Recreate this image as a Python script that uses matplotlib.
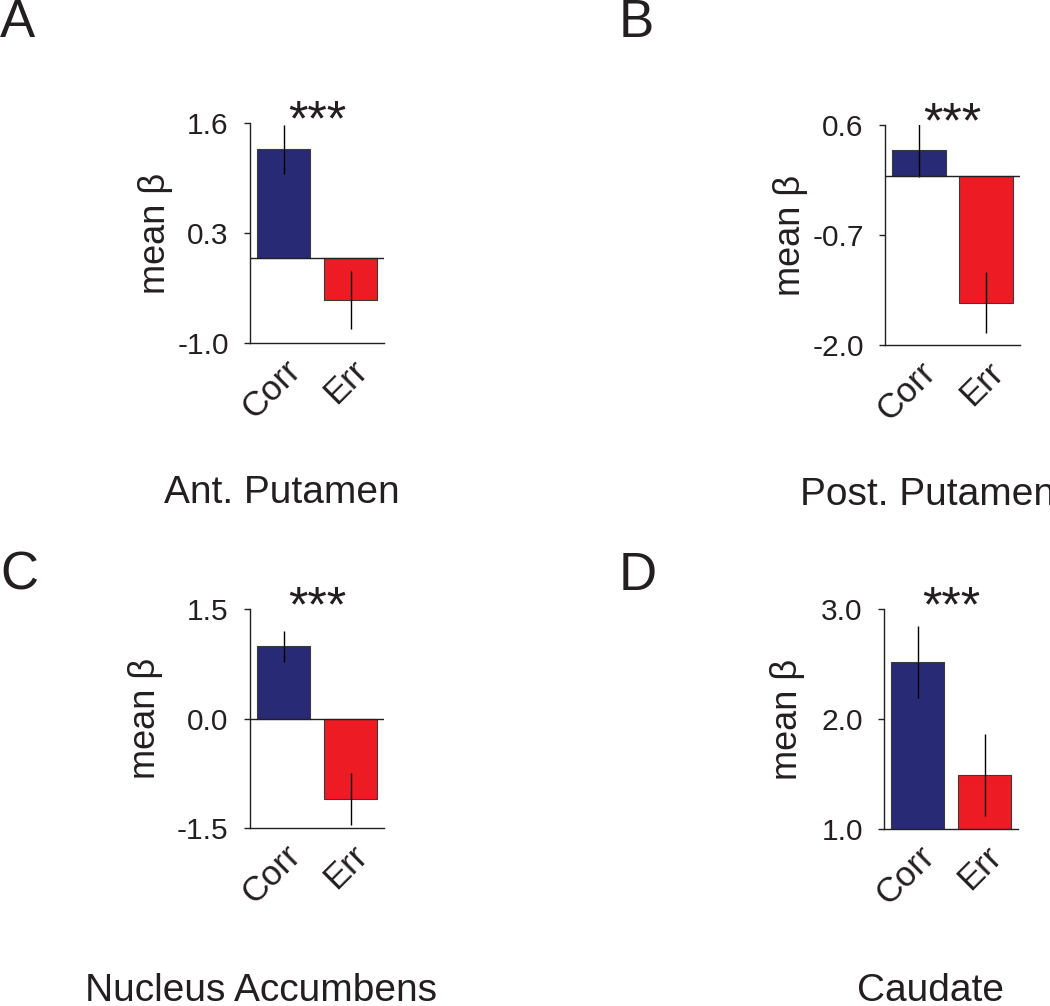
import matplotlib
matplotlib.use('Agg')
import matplotlib.pyplot as plt

plt.rcParams['font.family'] = ['Liberation Sans', 'DejaVu Sans']
plt.rcParams['axes.unicode_minus'] = False

# --- data ---
regions = ['Ant. Putamen', 'Post. Putamen', 'Nucleus Accumbens', 'Caudate']
panel_letters = ['A', 'B', 'C', 'D']
conditions = ['Corr', 'Err']
corr_mean = [1.29, 0.30, 0.99, 2.52]
corr_sem = [0.29, 0.31, 0.21, 0.33]
err_mean = [-0.49, -1.50, -1.10, 1.49]
err_sem = [0.34, 0.36, 0.36, 0.37]
yticks = [
    [-1.0, 0.3, 1.6],
    [-2.0, -0.7, 0.6],
    [-1.5, 0.0, 1.5],
    [1.0, 2.0, 3.0],
]

# --- layout, in pixels of the 1050x1006 canvas ---
W, H = 1050, 1006
ax_px = [(250, 384, 123, 343), (885, 1020, 125, 345),
         (250, 384, 609, 828), (884, 1018, 609, 829)]   # left, right, top, bottom
ylab_dx = [-85, -85, -95, -87]                           # baseline of "mean β" from spine
title_pos = [(282, 503, 'center'), (800, 505, 'left'),
             (85, 1001, 'left'), (857, 1001, 'left')]
letter_pos = [(0, 37), (619, 37), (0, 590), (619, 590)]

BLUE = '#282a76'
RED = '#ed1c24'
INK = '#231f20'

fig = plt.figure(figsize=(W / 100, H / 100), dpi=100)

for i in range(4):
    l, r, t, b = ax_px[i]
    ax = fig.add_axes([l / W, 1 - b / H, (r - l) / W, (b - t) / H])
    x = [0, 1]
    ax.bar(x, [corr_mean[i], err_mean[i]], width=0.8, color=[BLUE, RED],
           edgecolor='#3a3a3a', linewidth=0.8, zorder=2)
    ax.errorbar(x, [corr_mean[i], err_mean[i]], yerr=[corr_sem[i], err_sem[i]],
                fmt='none', ecolor='black', elinewidth=1.0, capsize=0, zorder=3)
    ax.axhline(0, color=INK, lw=1.0, zorder=4)

    ax.set_xlim(-0.5, 1.5)
    ax.set_ylim(yticks[i][0], yticks[i][-1])
    ax.set_yticks(yticks[i])
    ax.set_yticklabels(['%.1f' % v for v in yticks[i]])
    ax.set_xticks(x)
    ax.set_xticklabels(conditions, rotation=45, ha='right', va='top',
                       rotation_mode='anchor')

    for s in ['top', 'right']:
        ax.spines[s].set_visible(False)
    for s in ['left', 'bottom']:
        ax.spines[s].set_linewidth(1.0)
        ax.spines[s].set_color(INK)
    ax.tick_params(axis='y', length=4.3, width=1.0, color=INK, pad=11,
                   labelsize=21.5, labelcolor=INK)
    ax.tick_params(axis='x', length=0, pad=8, labelsize=25, labelcolor=INK)

    ax.text(ylab_dx[i] / (r - l), 0.5, 'mean β', transform=ax.transAxes,
            rotation=90, rotation_mode='anchor', ha='center', va='baseline',
            fontsize=26, color=INK)

    ax.annotate('***', xy=(0.5, 1), xycoords=('data', 'axes fraction'),
                xytext=(0, -12), textcoords='offset pixels',
                ha='center', va='baseline', fontsize=36, color=INK)

    tx, ty, tha = title_pos[i]
    fig.text(tx / W, 1 - ty / H, regions[i], ha=tha, va='baseline',
             fontsize=28, color=INK)
    lx, ly = letter_pos[i]
    fig.text(lx / W, 1 - ly / H, panel_letters[i], ha='left', va='baseline',
             fontsize=38, color=INK)

fig.savefig('out.png', dpi=100)
